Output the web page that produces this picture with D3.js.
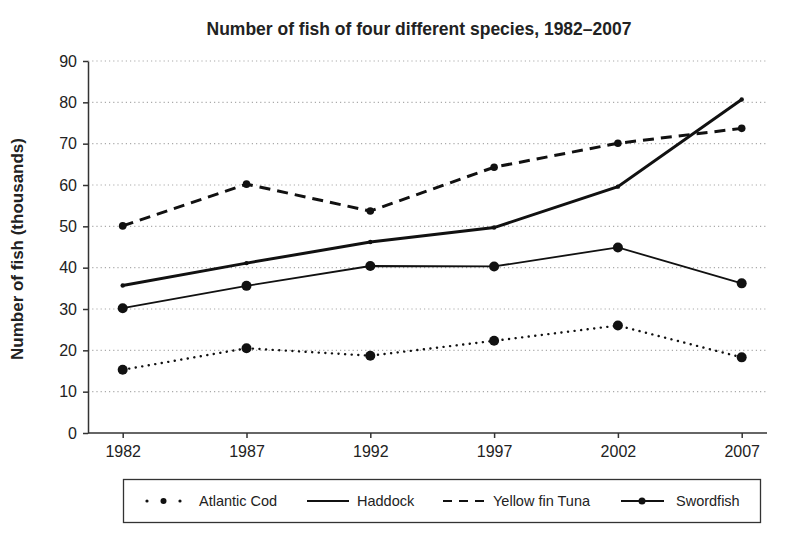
<!DOCTYPE html>
<html>
<head>
<meta charset="utf-8">
<script src="https://cdn.jsdelivr.net/npm/d3@7"></script>
<style>
  body { margin: 0; background: #fff; }
  text { font-family: "Liberation Sans", Arial, sans-serif; fill: #222; }
</style>
</head>
<body>
<svg id="chart" width="800" height="538"></svg>
<script>
var years = ["1982", "1987", "1992", "1997", "2002", "2007"];
var yTicks = [0, 10, 20, 30, 40, 50, 60, 70, 80, 90];
var atlanticCod = [15.3, 20.5, 18.7, 22.3, 26.0, 18.3];
var haddock = [35.7, 41.1, 46.2, 49.7, 59.6, 80.7];
var yellowFinTuna = [50.1, 60.2, 53.7, 64.3, 70.1, 73.7];
var swordfish = [30.2, 35.6, 40.4, 40.3, 44.9, 36.2];

var series = [
  { name: "Atlantic Cod", values: atlanticCod, width: 2.4, dash: "0.1 6.5", cap: "round", r: 5 },
  { name: "Haddock", values: haddock, width: 3, dash: null, cap: "butt", r: 2.2 },
  { name: "Yellow fin Tuna", values: yellowFinTuna, width: 3, dash: "11 7", cap: "butt", r: 3.8 },
  { name: "Swordfish", values: swordfish, width: 1.8, dash: null, cap: "butt", r: 5 }
];

var svg = d3.select("#chart");
var plotLeft = 88, plotRight = 767, plotTop = 61, plotBottom = 433;

var x = d3.scalePoint().domain(years).range([122.7, 741.7]);
var y = d3.scaleLinear().domain([0, 90]).range([plotBottom, plotTop]);

// title
svg.append("text")
  .attr("x", 419).attr("y", 35)
  .attr("text-anchor", "middle")
  .style("font-weight", "bold").style("font-size", "17.5px")
  .text("Number of fish of four different species, 1982\u20132007");

// y label
svg.append("text")
  .attr("transform", "translate(23," + ((plotTop + plotBottom) / 2 + 2) + ") rotate(-90)")
  .attr("text-anchor", "middle")
  .style("font-weight", "bold").style("font-size", "17px")
  .text("Number of fish (thousands)");

// grid
svg.append("g")
  .selectAll("line")
  .data(yTicks.filter(function(d) { return d > 0; }))
  .join("line")
  .attr("x1", plotLeft).attr("x2", plotRight)
  .attr("y1", function(d) { return y(d); })
  .attr("y2", function(d) { return y(d); })
  .attr("stroke", "#aaa")
  .attr("stroke-width", 1.2)
  .attr("stroke-dasharray", "1.2 3");

// y axis
var yAxis = svg.append("g")
  .attr("transform", "translate(" + plotLeft + ",0)")
  .call(d3.axisLeft(y).tickValues(yTicks).tickSize(5).tickPadding(6).tickSizeOuter(0));
yAxis.select(".domain").attr("stroke", "#333").attr("stroke-width", 1.5);
yAxis.selectAll(".tick line").attr("stroke", "#333").attr("stroke-width", 1.5);
yAxis.selectAll("text").style("font-size", "16px").attr("fill", "#222");

// x axis
var xAxis = svg.append("g")
  .attr("transform", "translate(0," + plotBottom + ")")
  .call(d3.axisBottom(x).tickSize(5).tickPadding(8).tickSizeOuter(0));
xAxis.select(".domain").attr("d", "M" + plotLeft + ",0H" + plotRight).attr("stroke", "#333").attr("stroke-width", 1.5);
xAxis.selectAll(".tick line").attr("stroke", "#333").attr("stroke-width", 1.5);
xAxis.selectAll("text").style("font-size", "16px").attr("fill", "#222");

// lines
var line = d3.line()
  .x(function(d, i) { return x(years[i]); })
  .y(function(d) { return y(d); });

series.forEach(function(s) {
  svg.append("path")
    .datum(s.values)
    .attr("fill", "none")
    .attr("stroke", "#111")
    .attr("stroke-width", s.width)
    .attr("stroke-linecap", s.cap)
    .attr("stroke-dasharray", s.dash)
    .attr("d", line);
  svg.append("g")
    .selectAll("circle")
    .data(s.values)
    .join("circle")
    .attr("cx", function(d, i) { return x(years[i]); })
    .attr("cy", function(d) { return y(d); })
    .attr("r", s.r)
    .attr("fill", "#111");
});

// legend
var lg = svg.append("g");
lg.append("rect")
  .attr("x", 123.5).attr("y", 479.5)
  .attr("width", 637).attr("height", 43)
  .attr("fill", "#fff").attr("stroke", "#333").attr("stroke-width", 1.3);

var ly = 501;
// Atlantic Cod
lg.selectAll("circle.cod")
  .data([[147, 1.6], [163.5, 3], [180, 1.6]])
  .join("circle")
  .attr("cx", function(d) { return d[0]; }).attr("cy", ly)
  .attr("r", function(d) { return d[1]; }).attr("fill", "#111");
lg.append("text").attr("x", 199).attr("y", ly + 5).style("font-size", "14.5px").text(series[0].name);
// Haddock
lg.append("line").attr("x1", 307).attr("x2", 349).attr("y1", ly).attr("y2", ly)
  .attr("stroke", "#111").attr("stroke-width", 2);
lg.append("text").attr("x", 357).attr("y", ly + 5).style("font-size", "14.5px").text(series[1].name);
// Yellow fin Tuna
lg.append("line").attr("x1", 443).attr("x2", 484).attr("y1", ly).attr("y2", ly)
  .attr("stroke", "#111").attr("stroke-width", 2).attr("stroke-dasharray", "9 7");
lg.append("text").attr("x", 493).attr("y", ly + 5).style("font-size", "14.5px").text(series[2].name);
// Swordfish
lg.append("line").attr("x1", 621).attr("x2", 664).attr("y1", ly).attr("y2", ly)
  .attr("stroke", "#111").attr("stroke-width", 1.8);
lg.append("circle").attr("cx", 642).attr("cy", ly).attr("r", 3.5).attr("fill", "#111");
lg.append("text").attr("x", 676).attr("y", ly + 5).style("font-size", "14.5px").text(series[3].name);
</script>
</body>
</html>
